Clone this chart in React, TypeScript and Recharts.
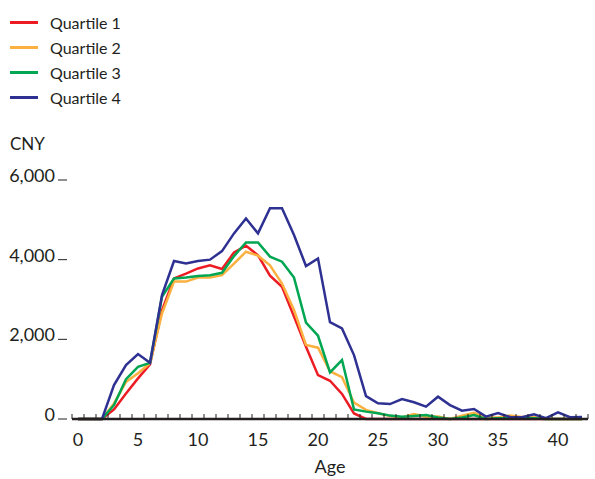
import React from 'react';
import { LineChart, Line, XAxis, YAxis, Legend } from 'recharts';

const FONT = 'Lato, "DejaVu Sans", sans-serif';
const INK = '#231f20';

// ages 0..42
const ages = [
  0, 1, 2, 3, 4, 5, 6, 7, 8, 9, 10, 11, 12, 13, 14, 15, 16, 17, 18, 19, 20, 21,
  22, 23, 24, 25, 26, 27, 28, 29, 30, 31, 32, 33, 34, 35, 36, 37, 38, 39, 40, 41, 42,
];

const quartile1 = [
  0, 0, 0, 240, 640, 1020, 1370, 2730, 3530, 3650, 3780, 3860, 3765, 4180, 4350, 4110,
  3600, 3320, 2570, 1815, 1100, 960, 630, 140, 0, 0, 0, 0, 0, 0, 0, 0, 0, 0, 0, 0, 0,
  0, 0, 0, 0, 0, 0,
];
const quartile2 = [
  0, 0, 0, 390, 930, 1150, 1400, 2650, 3450, 3450, 3550, 3550, 3610, 3900, 4200, 4100,
  3860, 3400, 2740, 1860, 1790, 1200, 1050, 410, 230, 145, 75, 40, 125, 55, 60, 0, 85,
  155, 40, 40, 85, 50, 50, 0, 0, 0, 0,
];
const quartile3 = [
  0, 0, 0, 350, 1000, 1310, 1410, 3070, 3530, 3550, 3590, 3610, 3670, 4090, 4430, 4430,
  4075, 3950, 3550, 2420, 2090, 1170, 1480, 240, 185, 145, 85, 55, 75, 100, 40, 0, 40,
  100, 0, 20, 20, 20, 20, 0, 0, 0, 0,
];
const quartile4 = [
  0, 0, 0, 850, 1355, 1630, 1410, 3110, 3965, 3905, 3965, 4000, 4215, 4660, 5035, 4660,
  5290, 5290, 4620, 3840, 4030, 2430, 2275, 1605, 575, 395, 375, 500, 420, 310, 560, 350,
  210, 250, 60, 150, 50, 45, 120, 20, 165, 45, 50,
];

const xLabels = [0, 5, 10, 15, 20, 25, 30, 35, 40];
const yTicks = [0, 2000, 4000, 6000];

const series = [
  { key: 'q1', name: 'Quartile 1', color: '#ed1c24', values: quartile1 },
  { key: 'q2', name: 'Quartile 2', color: '#fbb040', values: quartile2 },
  { key: 'q3', name: 'Quartile 3', color: '#00a651', values: quartile3 },
  { key: 'q4', name: 'Quartile 4', color: '#2e3192', values: quartile4 },
];

const data = ages.map((age, i) => {
  const row: Record<string, number> = { age };
  series.forEach((s) => (row[s.key] = s.values[i]));
  return row;
});

// small marks sit between categories, labels every 5 years
const xTicks = [...ages.map((a) => a - 0.5), ages[ages.length - 1] + 0.5, ...xLabels];

const XTick = (props: any) => {
  const { x, y, payload } = props;
  const v = payload.value;
  if (!Number.isInteger(v)) {
    return <line x1={x} x2={x} y1={y} y2={y - 5} stroke={INK} strokeWidth={1} />;
  }
  return (
    <text x={x} y={y + 27} textAnchor="middle" fontFamily={FONT} fontSize={18} fill={INK}>
      {v}
    </text>
  );
};

const YTick = (props: any) => {
  const { x, y, payload } = props;
  return (
    <g>
      <line x1={x - 14} x2={x - 5} y1={y} y2={y} stroke={INK} strokeWidth={1} />
      <text x={x - 17} y={y + 2} textAnchor="end" fontFamily={FONT} fontSize={18} fill={INK}>
        {payload.value.toLocaleString('en-US')}
      </text>
    </g>
  );
};

const renderLegend = () => (
  <div style={{ fontFamily: FONT, fontSize: 16, color: INK }}>
    {series.map((s) => (
      <div key={s.key} style={{ display: 'flex', alignItems: 'center', height: 25 }}>
        <span
          style={{
            display: 'inline-block',
            width: 28,
            height: 3,
            background: s.color,
            marginLeft: 10,
            marginRight: 12,
          }}
        />
        <span>{s.name}</span>
      </div>
    ))}
  </div>
);

export default function App() {
  return (
    <div style={{ position: 'absolute', left: 0, top: 0, background: '#fff' }}>
      <LineChart
        width={595}
        height={479}
        data={data}
        margin={{ top: 180, right: 7, left: 12, bottom: 30 }}
      >
        <XAxis
          dataKey="age"
          type="number"
          domain={[-0.5, 42.5]}
          ticks={xTicks}
          interval={0}
          height={30}
          tickSize={0}
          tickMargin={0}
          tickLine={false}
          tick={<XTick />}
          axisLine={{ stroke: INK, strokeWidth: 2.5 }}
          label={{
            value: 'Age',
            position: 'bottom',
            offset: 11,
            fontFamily: FONT,
            fontSize: 18,
            fill: INK,
          }}
        />
        <YAxis
          domain={[0, 6000]}
          ticks={yTicks}
          width={60}
          tickSize={0}
          tickMargin={0}
          tickLine={false}
          axisLine={false}
          tick={<YTick />}
          label={() => (
            <text x={10} y={150} fontFamily={FONT} fontSize={17} fill={INK}>
              CNY
            </text>
          )}
        />
        <Legend
          layout="vertical"
          align="center"
          verticalAlign="middle"
          content={renderLegend}
          wrapperStyle={{ top: 10, left: 0, width: 200 }}
        />
        {series.map((s) => (
          <Line
            key={s.key}
            type="linear"
            dataKey={s.key}
            name={s.name}
            stroke={s.color}
            strokeWidth={2.5}
            dot={false}
            isAnimationActive={false}
          />
        ))}
      </LineChart>
    </div>
  );
}
